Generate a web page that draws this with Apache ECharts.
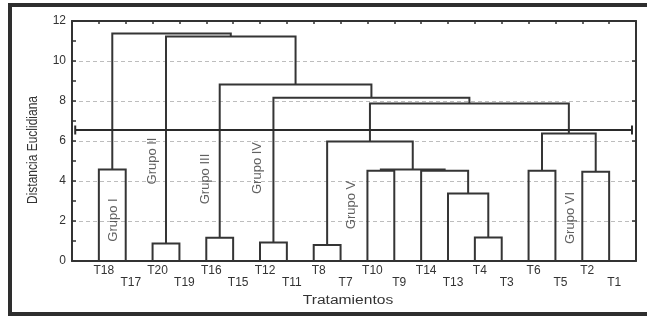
<!DOCTYPE html>
<html>
<head>
<meta charset="utf-8">
<script src="https://cdn.jsdelivr.net/npm/echarts@6/dist/echarts.min.js"></script>
<style>
html,body{margin:0;padding:0;background:#fff;}
#chart{width:647px;height:320px;}
</style>
</head>
<body>
<div id="chart"></div>
<script>
// Leaves in dendrogram order (left to right)
const leaves = ['T18','T17','T20','T19','T16','T15','T12','T11','T8','T7','T10','T9','T14','T13','T4','T3','T6','T5','T2','T1'];
// Merges: cluster Ck is the k-th merge (1-based)
const mergeA = ['T18','T20','T16','T12','T8','T10','T4','T13','T14','C6','C5','T6','T2','C12','C11','C4','C3','C2','C1'];
const mergeB = ['T17','T19','T15','T11','T7','T9','T3','C7','C8','C9','C10','T5','T1','C13','C14','C15','C16','C17','C18'];
const mergeHeight = [4.58, 0.88, 1.16, 0.93, 0.80, 4.51, 1.18, 3.38, 4.51, 4.58, 5.97, 4.51, 4.46, 6.38, 7.88, 8.16, 8.83, 11.22, 11.38];
// Cut level
const cutLevel = 6.55;
// Group labels
const groupNames = ['Grupo I','Grupo II','Grupo III','Grupo IV','Grupo V','Grupo VI'];
const groupX = [1.53, 2.98, 4.95, 6.89, 10.39, 18.54];
const groupY = [2.05, 5.0, 4.1, 4.65, 2.8, 2.15];
const yTicks = [0, 2, 4, 6, 8, 10, 12];

const node = {};
leaves.forEach((l, i) => { node[l] = {x: i + 1, h: 0}; });
const links = [];
mergeA.forEach((a, i) => {
  const b = mergeB[i], h = mergeHeight[i];
  const na = node[a], nb = node[b];
  links.push({coords: [[na.x, na.h], [na.x, h], [nb.x, h], [nb.x, nb.h]]});
  node['C' + (i + 1)] = {x: (na.x + nb.x) / 2, h: h};
});

const dark = '#333';
const font = 'Liberation Sans, Arial, sans-serif';
const chart = echarts.init(document.getElementById('chart'), null, {renderer: 'canvas'});
chart.setOption({
  animation: false,
  backgroundColor: '#fff',
  grid: {left: 72, right: 11, top: 21, bottom: 59},
  xAxis: [{
    type: 'value', min: 0, max: leaves.length + 1, interval: 1, position: 'bottom',
    axisLine: {show: true, onZero: false, lineStyle: {color: dark, width: 2}},
    axisTick: {show: false},
    splitLine: {show: false},
    axisLabel: {
      show: true, margin: 4, color: dark, fontSize: 12, fontFamily: font, lineHeight: 12,
      padding: [0, 0, 0, 10],
      formatter: v => {
        const i = Math.round(v) - 1;
        if (i < 0 || i >= leaves.length) return '';
        return i % 2 === 0 ? leaves[i] : '\n' + leaves[i];
      }
    }
  }, {
    type: 'value', min: 0, max: leaves.length + 1, interval: 1, position: 'top',
    axisLine: {show: true, onZero: false, lineStyle: {color: dark, width: 2}},
    axisTick: {show: true, inside: true, length: 3, lineStyle: {color: dark, width: 1.5}},
    axisLabel: {show: false},
    splitLine: {show: false}
  }],
  yAxis: [{
    type: 'value', min: yTicks[0], max: yTicks[yTicks.length - 1], interval: 2, position: 'left',
    axisLine: {show: true, onZero: false, lineStyle: {color: dark, width: 2}},
    axisTick: {show: true, inside: true, length: 4, lineStyle: {color: dark, width: 1.5}},
    minorTick: {show: true, splitNumber: 2, length: 4, lineStyle: {color: dark, width: 1.5}},
    axisLabel: {color: dark, fontSize: 12, fontFamily: font, margin: 6},
    splitLine: {show: true, lineStyle: {color: '#bdbdbd', type: [4, 3], width: 1}}
  }, {
    type: 'value', min: yTicks[0], max: yTicks[yTicks.length - 1], interval: 2, position: 'right',
    axisLine: {show: true, onZero: false, lineStyle: {color: dark, width: 2}},
    axisTick: {show: true, inside: true, length: 4, lineStyle: {color: dark, width: 1.5}},
    axisLabel: {show: false},
    splitLine: {show: false}
  }],
  series: [{
    type: 'lines', coordinateSystem: 'cartesian2d', polyline: true,
    xAxisIndex: 0, yAxisIndex: 0, silent: true,
    lineStyle: {color: '#353535', width: 2, opacity: 1},
    data: links
  }, {
    type: 'line', xAxisIndex: 0, yAxisIndex: 0, silent: true,
    data: [[0.12, cutLevel], [20.85, cutLevel]],
    symbol: 'rect', symbolSize: [2, 9], showSymbol: true,
    itemStyle: {color: '#2a2a2a'},
    lineStyle: {color: '#2a2a2a', width: 2}
  }, {
    type: 'scatter', xAxisIndex: 0, yAxisIndex: 0, silent: true,
    symbolSize: 0,
    data: groupNames.map((n, i) => ({value: [groupX[i], groupY[i]], name: n})),
    label: {
      show: true, position: 'inside', rotate: 90, formatter: p => p.name,
      color: '#3a3a3a', fontSize: 13, fontFamily: font
    }
  }],
  graphic: [{
    type: 'rect', silent: true,
    shape: {x: 10, y: 5, width: 650, height: 309},
    style: {fill: 'none', stroke: '#2e2e2e', lineWidth: 4}
  }, {
    type: 'text', x: 33, y: 150, rotation: Math.PI / 2, scaleY: 1.2, silent: true,
    style: {text: 'Distancia Euclidiana', fill: dark, font: '12px ' + font,
      align: 'center', verticalAlign: 'middle', textAlign: 'center', textVerticalAlign: 'middle'}
  }, {
    type: 'text', x: 348, y: 301, scaleX: 1.3, silent: true,
    style: {text: 'Tratamientos', fill: dark, font: '12px ' + font,
      align: 'center', verticalAlign: 'middle', textAlign: 'center', textVerticalAlign: 'middle'}
  }]
});
</script>
</body>
</html>
